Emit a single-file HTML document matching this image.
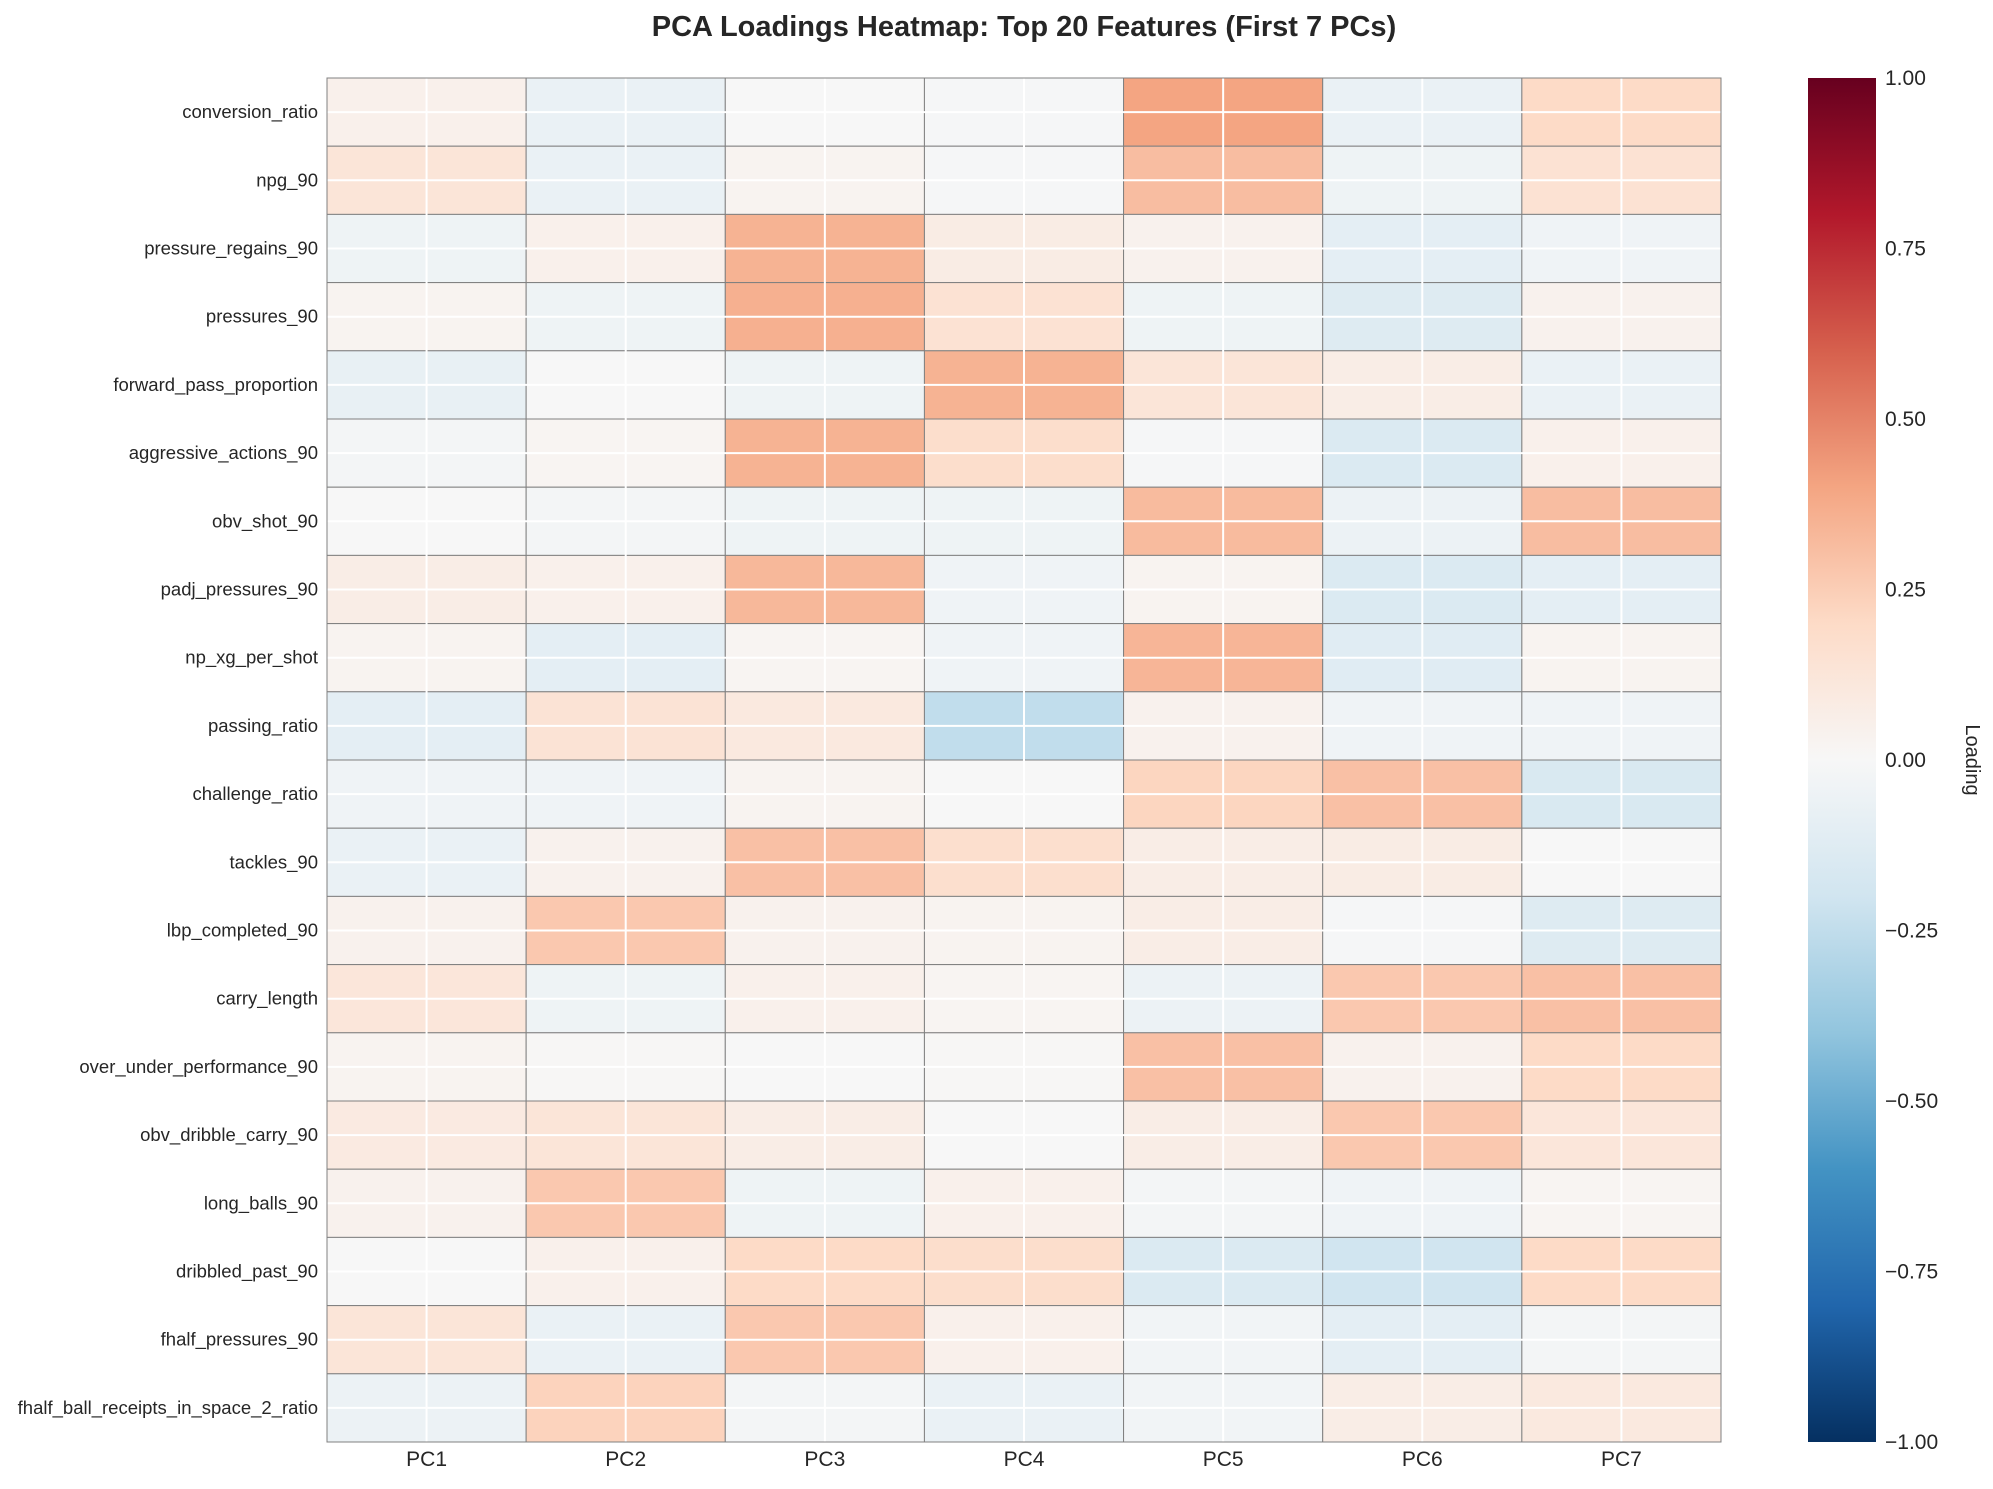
<!DOCTYPE html>
<html><head><meta charset="utf-8"><style>
body{margin:0;background:#fff;}
svg text{font-family:"Liberation Sans",Arial,sans-serif;fill:#262626;}
</style></head><body>
<svg id="chart" width="1993" height="1484" xmlns="http://www.w3.org/2000/svg">
<defs>
<linearGradient id="cbgrad" x1="0" y1="1" x2="0" y2="0">
<stop offset="0" stop-color="#053061"/><stop offset="0.1" stop-color="#2166ac"/><stop offset="0.2" stop-color="#4393c3"/><stop offset="0.3" stop-color="#92c5de"/><stop offset="0.4" stop-color="#d1e5f0"/><stop offset="0.5" stop-color="#f7f7f7"/><stop offset="0.6" stop-color="#fddbc7"/><stop offset="0.7" stop-color="#f4a582"/><stop offset="0.8" stop-color="#d6604d"/><stop offset="0.9" stop-color="#b2182b"/><stop offset="1" stop-color="#67001f"/>
</linearGradient>
</defs>
<text x="1024" y="36" text-anchor="middle" font-size="29" font-weight="bold">PCA Loadings Heatmap: Top 20 Features (First 7 PCs)</text>
<g id="cells"></g>
<g id="grid"></g>
<g id="ylabels"></g>
<g id="xlabels"></g>
<rect x="1808" y="78" width="68" height="1364" fill="url(#cbgrad)"/>
<g id="cbticks"></g>
<text transform="translate(1966,760) rotate(90)" text-anchor="middle" font-size="20">Loading</text>
</svg>
<script>
const features=["conversion_ratio","npg_90","pressure_regains_90","pressures_90","forward_pass_proportion","aggressive_actions_90","obv_shot_90","padj_pressures_90","np_xg_per_shot","passing_ratio","challenge_ratio","tackles_90","lbp_completed_90","carry_length","over_under_performance_90","obv_dribble_carry_90","long_balls_90","dribbled_past_90","fhalf_pressures_90","fhalf_ball_receipts_in_space_2_ratio"];
const components=["PC1","PC2","PC3","PC4","PC5","PC6","PC7"];
const pc1=[0.05,0.13,-0.05,0.03,-0.08,-0.02,0.0,0.07,0.03,-0.1,-0.04,-0.07,0.04,0.12,0.03,0.09,0.04,0.0,0.13,-0.06];
const pc2=[-0.07,-0.07,0.05,-0.05,0.0,0.02,-0.02,0.05,-0.1,0.14,-0.04,0.04,0.27,-0.05,0.01,0.13,0.27,0.05,-0.07,0.23];
const pc3=[0.0,0.03,0.35,0.36,-0.05,0.35,-0.05,0.33,0.02,0.1,0.03,0.3,0.04,0.05,0.0,0.07,-0.05,0.2,0.27,-0.02];
const pc4=[-0.01,-0.01,0.08,0.15,0.35,0.18,-0.05,-0.04,-0.04,-0.25,0.0,0.17,0.03,0.02,0.01,0.0,0.05,0.18,0.05,-0.07];
const pc5=[0.4,0.31,0.04,-0.05,0.13,-0.01,0.32,0.03,0.34,0.04,0.22,0.07,0.07,-0.06,0.3,0.07,-0.02,-0.15,-0.03,-0.03];
const pc6=[-0.07,-0.05,-0.1,-0.13,0.07,-0.15,-0.06,-0.15,-0.12,-0.04,0.3,0.08,-0.01,0.27,0.04,0.27,-0.04,-0.2,-0.1,0.07];
const pc7=[0.2,0.15,-0.04,0.04,-0.07,0.05,0.31,-0.1,0.03,-0.04,-0.16,0.0,-0.13,0.3,0.2,0.12,0.02,0.2,-0.02,0.1];
const cbTicks=[-1,-0.75,-0.5,-0.25,0,0.25,0.5,0.75,1];
const series=[pc1,pc2,pc3,pc4,pc5,pc6,pc7];

const X0=327,X1=1721,Y0=78,Y1=1442;
const cw=(X1-X0)/components.length, rh=(Y1-Y0)/features.length;
const xPos=i=>X0+i*cw, yPos=j=>Y0+j*rh;
const cbY=v=>Y1-(v+1)/2*(Y1-Y0);
const stops=["#053061","#2166ac","#4393c3","#92c5de","#d1e5f0","#f7f7f7","#fddbc7","#f4a582","#d6604d","#b2182b","#67001f"].map(h=>[1,3,5].map(k=>parseInt(h.substr(k,2),16)));
function color(v){let t=Math.max(0,Math.min(1,(v+1)/2))*10;let i=Math.min(9,Math.floor(t));let f=t-i;const a=stops[i],b=stops[i+1];return "rgb("+a.map((c,k)=>Math.round(c+(b[k]-c)*f)).join(",")+")";}
const NS="http://www.w3.org/2000/svg";
function mk(tag,attrs,parent){const e=document.createElementNS(NS,tag);for(const k in attrs)e.setAttribute(k,attrs[k]);parent.appendChild(e);return e;}
const cells=document.getElementById('cells'),grid=document.getElementById('grid');
series.forEach((s,i)=>s.forEach((v,j)=>{
 const r=mk('rect',{x:xPos(i),y:yPos(j),width:cw,height:rh,fill:color(v),stroke:'#808080','stroke-width':1},cells);
 
 
}));
components.forEach((c,i)=>{
 const l=mk('line',{x1:xPos(i)+cw/2,x2:xPos(i)+cw/2,y1:Y0,y2:Y1,stroke:'#fff','stroke-width':2},grid);
 
 
 const t=mk('text',{x:xPos(i)+cw/2,y:Y1+24,'text-anchor':'middle','font-size':21},document.getElementById('xlabels'));
 t.textContent=c;
 
 
});
features.forEach((f,j)=>{
 const l=mk('line',{x1:X0,x2:X1,y1:yPos(j)+rh/2,y2:yPos(j)+rh/2,stroke:'#fff','stroke-width':2},grid);
 
 
 const t=mk('text',{x:X0-9,y:yPos(j)+rh/2+6,'text-anchor':'end','font-size':18.5},document.getElementById('ylabels'));
 t.textContent=f;
 
 
});
mk('rect',{x:X0,y:Y0,width:X1-X0,height:Y1-Y0,fill:'none',stroke:'#808080','stroke-width':1},grid);
cbTicks.forEach(v=>{
 const t=mk('text',{x:1885,y:cbY(v)+7,'font-size':21},document.getElementById('cbticks'));
 t.textContent=(v<0?'\u2212':'')+Math.abs(v).toFixed(2);
 
 
});
</script>
</body></html>
